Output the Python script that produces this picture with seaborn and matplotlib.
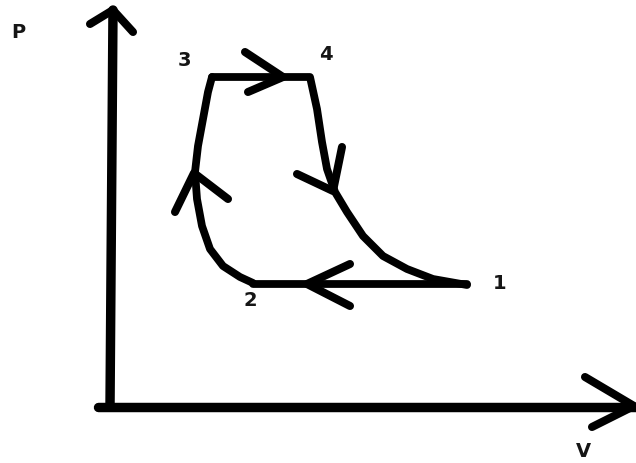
import matplotlib
matplotlib.use('Agg')
import matplotlib.pyplot as plt
import seaborn as sns

sns.set_style('white')
plt.rcParams['font.family'] = ['DejaVu Sans']

# hand-drawn P-V cycle, coordinates (pixels, y down)
axis_p_x = [110, 113]
axis_p_y = [408, 11]
axis_v_x = [98, 636]
axis_v_y = [408, 408]

curve_23_x = [253, 240, 223, 210, 202, 197, 195, 198, 203, 208, 212]
curve_23_y = [284, 278, 267, 250, 227, 200, 173, 147, 120, 93, 78]
line_34_x = [212, 308]
line_34_y = [78, 78]
curve_41_x = [310, 317, 322, 327, 335, 347, 363, 383, 407, 433, 467]
curve_41_y = [78, 110, 143, 170, 193, 213, 237, 257, 270, 280, 286]
line_12_x = [467, 253]
line_12_y = [285, 285]

# arrow heads: arm end, tip, arm end
heads = {
    'p': ([90, 113, 133], [25, 11, 33]),
    'v': ([585, 634, 592], [378, 407, 428]),
    '34': ([245, 283, 248], [53, 78, 93]),
    '41': ([297, 333, 342], [175, 192, 148]),
    '23': ([175, 194, 228], [213, 174, 200]),
    '12': ([350, 307, 350], [265, 285, 307]),
}

labels = ['P', 'V', '1', '2', '3', '4']
label_x = [18, 583, 500, 250, 184, 326]
label_y = [32, 452, 284, 301, 61, 54]

fig = plt.figure(figsize=(6.36, 4.64), dpi=100)
ax = fig.add_axes([0, 0, 1, 1])

strokes = [
    (axis_p_x, axis_p_y, 6.8),
    (axis_v_x, axis_v_y, 6.8),
    (curve_23_x, curve_23_y, 5.6),
    (line_34_x, line_34_y, 5.6),
    (curve_41_x, curve_41_y, 5.6),
    (line_12_x, line_12_y, 5.6),
]
for hx, hy in heads.values():
    strokes.append((hx, hy, 5.8))

for xs, ys, lw in strokes:
    sns.lineplot(x=xs, y=ys, sort=False, estimator=None, ax=ax, color='black',
                 linewidth=lw, solid_capstyle='round', solid_joinstyle='round')

for t, x, y in zip(labels, label_x, label_y):
    ax.text(x, y, t, fontsize=14, fontweight='bold', color='#151515',
            ha='center', va='center')

ax.set_xlim(0, 636)
ax.set_ylim(464, 0)
ax.axis('off')

fig.savefig('out.png', dpi=100, facecolor='white')
